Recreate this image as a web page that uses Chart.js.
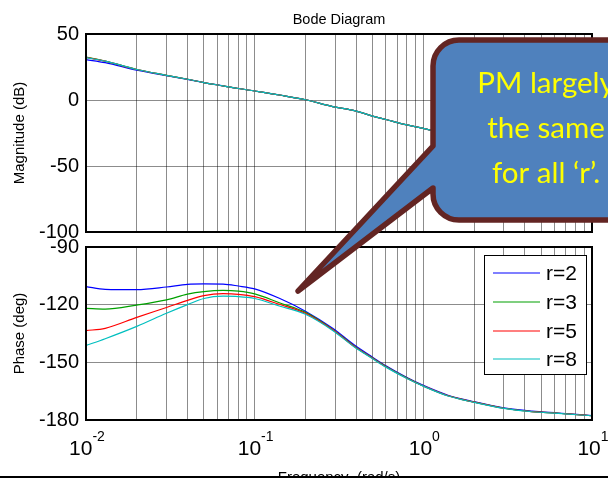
<!DOCTYPE html>
<html><head><meta charset="utf-8">
<script src="https://cdn.jsdelivr.net/npm/chart.js@4/dist/chart.umd.min.js"></script>
<style>
html,body{margin:0;padding:0;background:#fff;overflow:hidden}
#wrap{position:relative;width:608px;height:479px;background:#fff}
canvas{position:absolute;left:0;top:0}
</style></head><body>
<div id="wrap"><canvas id="mag" width="608" height="479"></canvas><canvas id="ph" width="608" height="479"></canvas></div>
<script>
// ---------- data ----------
const freq = [0.01, 0.013, 0.02, 0.03, 0.04, 0.05, 0.065, 0.08, 0.1, 0.14, 0.2, 0.29, 0.39, 0.5, 0.6, 0.8, 1, 1.4, 2, 3, 4.4, 6.3, 10];
const seriesLabels = ['r=2', 'r=3', 'r=5', 'r=8'];
const seriesColors = ['#0000FF', '#00A000', '#FF0000', '#00BFBF'];

const magR2 = [30.6, 28.3, 22.6, 18.4, 15.6, 13.2, 10.7, 8.7, 6.8, 3.8, 0.2, -5.0, -8.0, -12.2, -14.8, -18.9, -21.5, -26.5, -32.5, -39.5, -46.0, -52.5, -60.5];
const magR3 = [32.5, 29.5, 23.1, 18.7, 15.7, 13.2, 10.7, 8.7, 6.8, 3.8, 0.2, -5.0, -8.0, -12.2, -14.8, -18.9, -21.5, -26.5, -32.5, -39.5, -46.0, -52.5, -60.5];
const magR5 = [32.3, 29.5, 23.1, 18.7, 15.7, 13.2, 10.7, 8.7, 6.8, 3.8, 0.2, -5.0, -8.0, -12.2, -14.8, -18.9, -21.5, -26.5, -32.5, -39.5, -46.0, -52.5, -60.5];
const magR8 = [32.1, 29.4, 23.1, 18.7, 15.7, 13.2, 10.7, 8.7, 6.8, 3.8, 0.2, -5.0, -8.0, -12.2, -14.8, -18.9, -21.5, -26.5, -32.5, -39.5, -46.0, -52.5, -60.5];

const phaseR2 = [-110.6, -112.0, -112.2, -110.8, -109.4, -109.2, -109.3, -110.3, -111.8, -116.7, -123.4, -132.3, -141.0, -147.3, -151.8, -157.9, -162.0, -167.1, -170.5, -173.7, -175.4, -176.4, -177.7];
const phaseR3 = [-121.9, -122.3, -120.2, -117.5, -114.5, -113.2, -112.6, -113.0, -114.4, -119.0, -124.0, -132.9, -141.6, -147.8, -152.2, -158.2, -162.3, -167.4, -170.7, -173.9, -175.6, -176.5, -177.8];
const phaseR5 = [-133.5, -132.3, -126.6, -121.5, -117.8, -115.3, -114.3, -114.6, -115.8, -119.8, -124.5, -133.1, -141.8, -147.9, -152.3, -158.3, -162.3, -167.4, -170.7, -173.9, -175.6, -176.5, -177.8];
const phaseR8 = [-141.2, -137.7, -131.3, -124.5, -120.0, -116.8, -115.6, -115.8, -116.8, -120.7, -125.0, -133.4, -142.0, -148.1, -152.5, -158.4, -162.4, -167.5, -170.8, -174.0, -175.7, -176.6, -177.8];

const magTicks = [50, 0, -50, -100];
const phaseTicks = [-90, -120, -150, -180];
const gridFreqs = [0.01,0.02,0.03,0.04,0.05,0.06,0.07,0.08,0.09,0.1,0.2,0.3,0.4,0.5,0.6,0.7,0.8,0.9,1,2,3,4,5,6,7,8,9,10];
const decadeTicks = [0.01, 0.1, 1, 10];
const decadeExponents = ['-2', '-1', '0', '1'];

const calloutLines = ['PM largely', 'the same', 'for all \u2018r\u2019.'];

// ---------- helpers ----------
const FONT = '"Liberation Sans", Arial, sans-serif';
const GRID = 'rgba(0,0,0,0.45)';

function mkSets(arrs){
  return arrs.map((a,i)=>({
    label: seriesLabels[i],
    data: freq.map((f,j)=>({x:f, y:a[j]})),
    borderColor: seriesColors[i],
    backgroundColor: seriesColors[i],
    borderWidth: 1.2,
    pointRadius: 0,
    cubicInterpolationMode: 'monotone',
    fill: false,
    order: arrs.length - 1 - i
  }));
}

function xScaleCfg(){
  return {
    type: 'logarithmic', min: 0.01, max: 10,
    afterBuildTicks: s => { s.ticks = gridFreqs.map(v=>({value:v})); },
    ticks: {display: false},
    grid: {color: GRID, lineWidth: 1, drawTicks: false},
    border: {display: false},
    afterFit: s => { s.height = 0; }
  };
}

function yScaleCfg(min, max, ticks, title){
  return {
    min, max,
    afterBuildTicks: s => { s.ticks = ticks.map(v=>({value:v})); },
    ticks: {color:'#000', font:{family: FONT, size: 20}, padding: 7},
    grid: {color: GRID, lineWidth: 1, drawTicks: false},
    border: {display: false},
    title: {display: true, text: title, color: '#000', font:{family: FONT, size: 15}, padding:{top: 11, bottom: 0}},
    afterFit: s => { s.width = 86; }
  };
}

const framePlugin = {
  id: 'frame',
  afterDatasetsDraw(chart){
    const {ctx, chartArea:a} = chart;
    ctx.save();
    ctx.strokeStyle = '#000'; ctx.lineWidth = 2;
    ctx.strokeRect(a.left, a.top, a.right - a.left, a.bottom - a.top);
    ctx.restore();
  }
};

const titlePlugin = {
  id: 'bodeTitle',
  afterDraw(chart){
    const {ctx, chartArea:a} = chart;
    ctx.save();
    ctx.fillStyle = '#000';
    ctx.font = '14.5px ' + FONT;
    ctx.textAlign = 'center'; ctx.textBaseline = 'middle';
    ctx.fillText('Bode Diagram', (a.left + a.right)/2, 20);
    ctx.restore();
  }
};

const bottomPlugin = {
  id: 'bottomDeco',
  afterDraw(chart){
    const {ctx, chartArea:a, scales} = chart;
    const xs = scales.x;
    ctx.save();
    // x tick labels 10^n
    ctx.fillStyle = '#000';
    ctx.textBaseline = 'alphabetic';
    ctx.textAlign = 'left';
    decadeTicks.forEach((v,i)=>{
      const px = xs.getPixelForValue(v);
      ctx.font = '21px ' + FONT;
      const w1 = ctx.measureText('10').width;
      ctx.font = '14px ' + FONT;
      const w2 = ctx.measureText(decadeExponents[i]).width;
      const x0 = px - (w1 + w2)/2 + 1;
      ctx.font = '21px ' + FONT;
      ctx.fillText('10', x0, 455);
      ctx.font = '14px ' + FONT;
      ctx.fillText(decadeExponents[i], x0 + w1, 441);
    });
    // x axis title (cut by bottom rule)
    ctx.font = '15px ' + FONT;
    ctx.textAlign = 'center';
    ctx.fillText('Frequency  (rad/s)', (a.left + a.right)/2, 482);
    ctx.fillStyle = '#fff';
    ctx.fillRect(0, 476, 608, 3);
    ctx.fillStyle = '#000';
    ctx.fillRect(0, 476, 608, 2);

    // legend
    const lx = 484, ly = 255, lw = 102, lh = 119;
    ctx.fillStyle = '#fff';
    ctx.fillRect(lx, ly, lw, lh);
    ctx.strokeStyle = '#000'; ctx.lineWidth = 1;
    ctx.strokeRect(lx + 0.5, ly + 0.5, lw, lh);
    const rows = [273, 302, 331, 359];
    seriesLabels.forEach((lab,i)=>{
      ctx.strokeStyle = seriesColors[i]; ctx.lineWidth = 1.2;
      ctx.beginPath(); ctx.moveTo(493, rows[i]); ctx.lineTo(540, rows[i]); ctx.stroke();
      ctx.fillStyle = '#000';
      ctx.font = '21px ' + FONT;
      ctx.textAlign = 'left'; ctx.textBaseline = 'middle';
      ctx.fillText(lab, 546, rows[i] + 1);
    });

    // callout
    const L = 433, T = 40, R = 660, B = 220, r = 26;
    ctx.beginPath();
    ctx.moveTo(L + r, T);
    ctx.lineTo(R, T);
    ctx.lineTo(R, B);
    ctx.lineTo(L + r, B);
    ctx.arcTo(L, B, L, B - r, r);
    ctx.lineTo(L, 188);
    ctx.lineTo(298, 291);
    ctx.lineTo(L, 146);
    ctx.lineTo(L, T + r);
    ctx.arcTo(L, T, L + r, T, r);
    ctx.closePath();
    ctx.fillStyle = '#4F81BD';
    ctx.fill();
    ctx.lineJoin = 'round';
    ctx.lineWidth = 5.5;
    ctx.strokeStyle = '#632523';
    ctx.stroke();

    ctx.fillStyle = '#FFFF00';
    ctx.font = '29.5px Lato, "Open Sans", sans-serif';
    ctx.textAlign = 'center'; ctx.textBaseline = 'alphabetic';
    const base = [93, 138, 183];
    calloutLines.forEach((t,i)=> ctx.fillText(t, 546, base[i]));
    ctx.restore();
  }
};

Chart.defaults.font.family = FONT;

new Chart(document.getElementById('mag'), {
  type: 'line',
  data: {datasets: mkSets([magR2, magR3, magR5, magR8])},
  options: {
    responsive: false, animation: false, devicePixelRatio: 1,
    layout: {padding: {left: 0, top: 34, right: 16, bottom: 247}},
    plugins: {legend: {display: false}, tooltip: {enabled: false}},
    scales: {x: xScaleCfg(), y: yScaleCfg(-100, 50, magTicks, 'Magnitude (dB)')}
  },
  plugins: [framePlugin, titlePlugin]
});

new Chart(document.getElementById('ph'), {
  type: 'line',
  data: {datasets: mkSets([phaseR2, phaseR3, phaseR5, phaseR8])},
  options: {
    responsive: false, animation: false, devicePixelRatio: 1,
    layout: {padding: {left: 0, top: 247, right: 16, bottom: 59}},
    plugins: {legend: {display: false}, tooltip: {enabled: false}},
    scales: {x: xScaleCfg(), y: yScaleCfg(-180, -90, phaseTicks, 'Phase (deg)')}
  },
  plugins: [framePlugin, bottomPlugin]
});
</script>
</body></html>
